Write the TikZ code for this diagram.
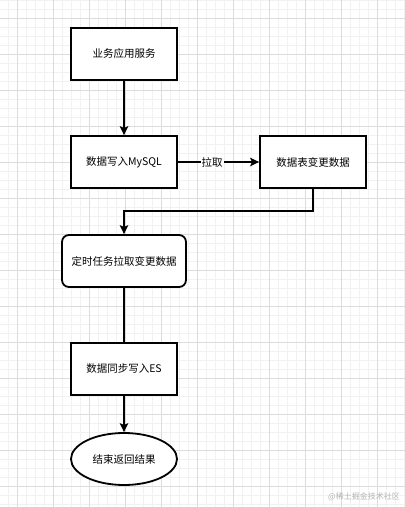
\documentclass[tikz,border=0pt]{standalone}
\usepackage{fontspec}
\setmainfont{Noto Sans CJK SC}
\usetikzlibrary{arrows.meta,shapes.geometric,positioning}
\definecolor{gridmajor}{HTML}{DCDCDC}
\definecolor{gridminor}{HTML}{F1F1F1}
\definecolor{wm}{HTML}{B4B4B4}
\tikzset{
  boxstyle/.style={draw=black,line width=1.8pt,fill=white,minimum width=106pt,minimum height=52pt,inner sep=2pt,font=\fontsize{10.5pt}{12pt}\selectfont},
  roundbox/.style={boxstyle,rounded corners=7pt,minimum width=124pt},
  endstyle/.style={boxstyle,ellipse,minimum width=106pt,minimum height=52pt},
  conn/.style={line width=1.6pt,draw=black},
  arr/.style={conn,-{Stealth[length=9pt,width=8.5pt,inset=2pt]}},
  lbl/.style={fill=white,inner sep=1pt,font=\fontsize{10.5pt}{12pt}\selectfont}
}
\begin{document}
\begin{tikzpicture}[x=1pt,y=-1pt]
\useasboundingbox (0,0) rectangle (405,507);
\fill[white] (0,0) rectangle (405,507);
% minor grid
\foreach \x in {8,17,...,404} \draw[gridminor,line width=0.6pt] (\x,0) -- (\x,507);
\foreach \y in {0,9,...,506} \draw[gridminor,line width=0.6pt] (0,\y) -- (405,\y);
% major grid
\foreach \x in {17,53,...,404} \draw[gridmajor,line width=0.8pt] (\x,0) -- (\x,507);
\foreach \y in {18,54,...,506} \draw[gridmajor,line width=0.8pt] (0,\y) -- (405,\y);
% nodes
\node[boxstyle] (b1) at (124,54) {业务应用服务};
\node[boxstyle] (b2) at (124,162) {数据写入MySQL};
\node[boxstyle] (b3) at (313,162) {数据表变更数据};
\node[roundbox] (b4) at (124,261) {定时任务拉取变更数据};
\node[boxstyle] (b5) at (124,369) {数据同步写入ES};
\node[endstyle] (e) at (124,459) {结束返回结果};
\coordinate (k1) at (313,211);
\coordinate (k2) at (124,211);
% connectors
\draw[arr] (b1.south) -- (b2.north);
\draw[arr] (b2.east) -- node[lbl,pos=0.42] {拉取} (b3.west);
\draw[arr] (b3.south) -- (k1) -- (k2) -- (b4.north);
\draw[conn] (b4.south) -- (b5.north);
\draw[arr] (b5.south) -- (e.north);
% watermark
\node[text=wm,font=\fontsize{8pt}{9pt}\selectfont,inner sep=0pt] (wmk) at (364,497) {@稀土掘金技术社区};
\end{tikzpicture}
\end{document}
